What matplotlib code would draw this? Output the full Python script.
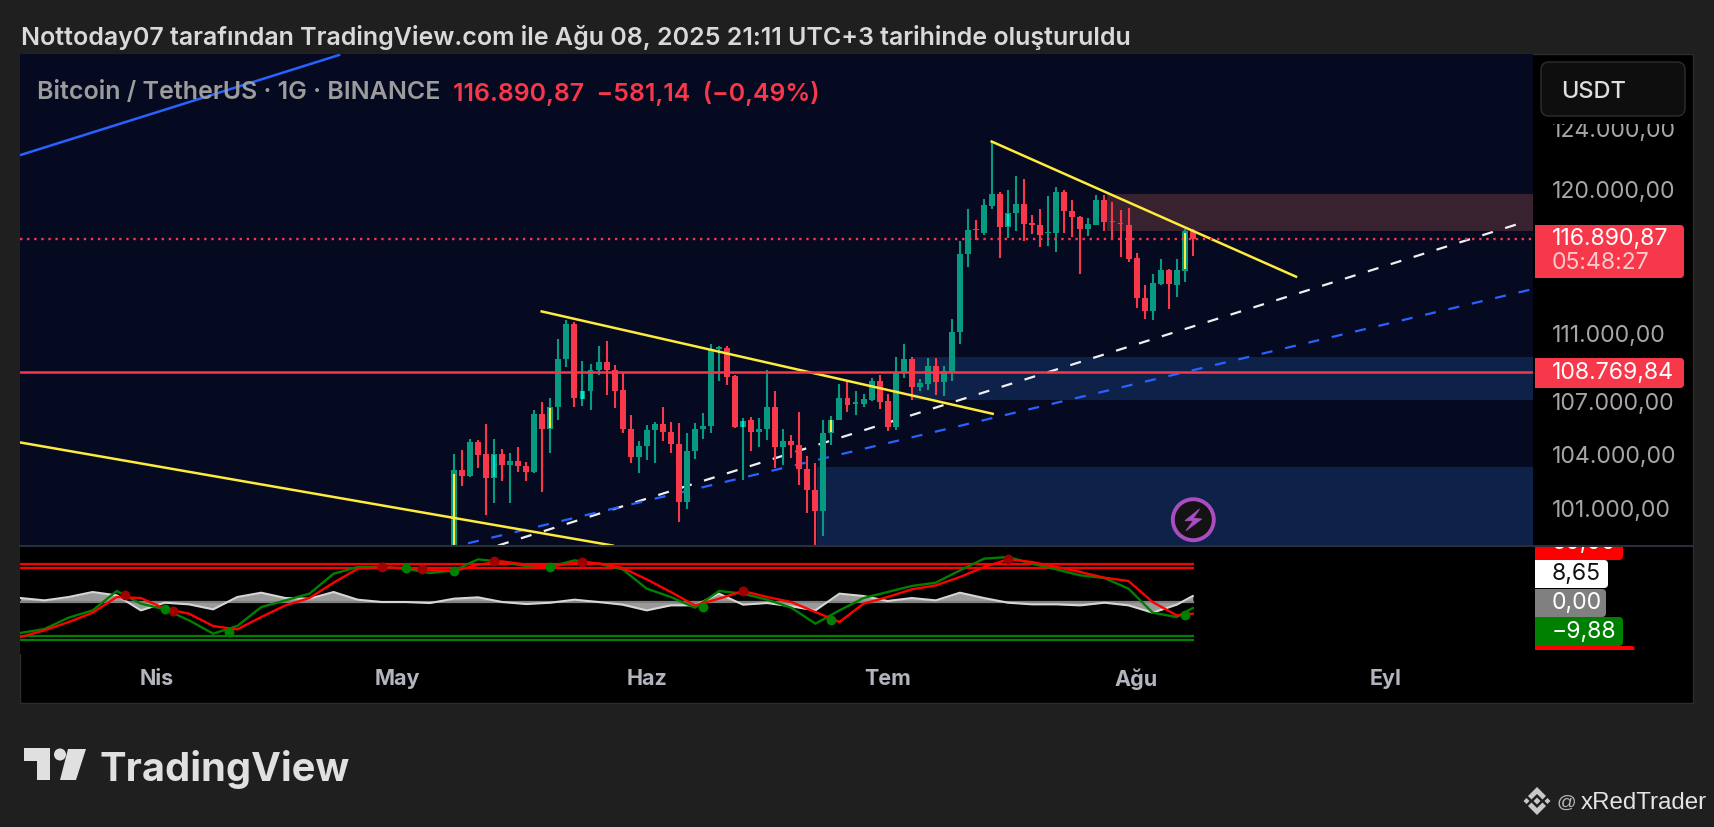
import numpy as np
import matplotlib
matplotlib.use("Agg")
import matplotlib.pyplot as plt
from matplotlib.patches import Rectangle, FancyBboxPatch, Circle, Polygon
from matplotlib.transforms import ScaledTranslation

plt.rcParams["font.family"] = ["Inter", "DejaVu Sans"]

# -----------------------------
# 1. DATA (x = days from 1 May 2025)
# -----------------------------
first_candle = 7
opens = [97030, 103200, 102870, 104760, 104050, 102710, 104050, 103430, 103690, 103390, 103040, 106375,
         105515, 106755, 109560, 111630, 107215, 107650, 108890, 109360, 108890, 107740, 105510, 103930,
         104515, 105460, 105780, 105320, 104650, 101400, 104235, 105500, 105650, 110155, 110235, 108580,
         105590, 105990, 105340, 105500, 106755, 104460, 104835, 104590, 103260, 102080, 100895, 105266,
         106030, 107300, 106950, 106950, 107180, 108290, 107120, 105585, 108720, 109540, 107900, 108095,
         109130, 108190, 108815, 111150, 115930, 117520, 117290, 119000, 119790, 117670, 118530, 119125,
         117890, 117780, 117250, 117250, 119880, 118700, 118290, 117520, 117800, 119360, 118035, 117930,
         117780, 115720, 113250, 112460, 114070, 114975, 114050, 114915, 117400]
closes = [103200, 102870, 104760, 104030, 102710, 104050, 103430, 103690, 103390, 103060, 106375, 105515,
          106755, 109560, 111650, 107250, 107670, 108930, 109360, 108890, 107700, 105500, 103930, 104515,
          105460, 105780, 105320, 104630, 101400, 104235, 105500, 105680, 110175, 110255, 108520, 105590,
          105970, 105340, 105510, 106755, 104460, 104835, 104570, 103225, 102060, 100895, 105285, 106030,
          107275, 106870, 107025, 107220, 108290, 107065, 105585, 108780, 109540, 107920, 108150, 109130,
          108190, 108855, 111190, 115975, 117480, 117440, 119040, 119790, 117670, 118550, 119125, 117820,
          117800, 117170, 117335, 119880, 118660, 118270, 117520, 117865, 119360, 117950, 117950, 117845,
          115660, 113210, 112460, 114130, 114975, 114070, 114935, 117400, 116890]
highs = [104100, 104290, 104930, 104890, 105760, 104930, 104330, 104140, 104480, 103650, 106565, 107060,
         107250, 110730, 111910, 111750, 109440, 109260, 110350, 110630, 109205, 108810, 106280, 104815,
         105710, 105880, 106755, 105880, 105840, 105285, 105840, 106410, 110470, 110350, 110315, 108620,
         106125, 106180, 106090, 108890, 107670, 105500, 105170, 106470, 103950, 103575, 105990, 106240,
         108080, 108230, 107700, 107530, 108445, 108640, 107510, 109660, 110475, 109660, 108385, 109620,
         109620, 109130, 111955, 116790, 118830, 118120, 119450, 123200, 119880, 120030, 120960, 120765,
         118420, 118785, 119620, 120200, 120030, 119405, 118380, 118250, 119700, 119725, 119230, 118765,
         118870, 116010, 114000, 114730, 115655, 115040, 115635, 117520, 117520]
lows = [96900, 102290, 102780, 103300, 100680, 101365, 102560, 101330, 103060, 102580, 103020, 101970,
        104140, 106030, 109090, 106755, 106830, 106565, 108620, 107470, 106720, 105270, 103560, 103020,
        103725, 103595, 104815, 104140, 100315, 101040, 103820, 104910, 105250, 108250, 108015, 105570,
        102615, 104250, 104440, 104890, 103315, 103430, 103860, 102320, 100800, 98200, 99555, 104570,
        105990, 106490, 106315, 106760, 107085, 106660, 105350, 105450, 108465, 107180, 107700, 107745,
        107470, 107373, 108290, 110435, 115160, 116810, 117170, 118830, 115680, 116980, 117375, 116790,
        117230, 116390, 116430, 116050, 117250, 117020, 114690, 117060, 117760, 117375, 116850, 115740,
        115450, 112640, 111960, 111880, 114030, 112580, 113290, 114210, 115820]

# candles with a coloured centre
yellow_days = [7, 19, 54, 98]
cyan_days = [12, 23, 43, 76]

price_ticks = [124000, 120000, 111000, 107000, 104000, 101000]
price_labels = ["124.000,00", "120.000,00", "111.000,00", "107.000,00", "104.000,00", "101.000,00"]
last_price = 116890.87
level_price = 108769.84

month_days = [-30, 0, 31, 61, 92, 123]
month_labels = ["Nis", "May", "Haz", "Tem", "Ağu", "Eyl"]

# trend lines: (day0, price0, day1, price1)
yellow_lines = [(-46.9, 104715, 26.76, 99050), (17.92, 112410, 74.08, 106360), (73.96, 123220, 111.86, 114540)]
blue_line = (-46.9, 122340, -7.32, 129120)
white_dash = (12.48, 99050, 139.95, 117920)
blue_dash = (8.74, 99170, 141.37, 113780)

# zones: (left day, bottom price, top price)
pink_zone = (88.32, 117410, 119790)
mid_zone = (64.16, 107170, 109700)
low_zone = (52.17, 98000, 103330)

# oscillator, every third day plus the last bar
wt_days = [d for d in range(-47, 98, 3)] + [99]
wt1 = [-48.9, -42.6, -24.7, -13.2, 17.4, -2.6, -11.6, -28.9, -50, -37.9, -7.9, 2.6, 13.2, 44.7, 55.3, 55.3, 52.6,
       45.8, 50, 67.4, 63.2, 56.8, 55.8, 65.8, 60.5, 51.6, 21.1, 7.9, -8.9, 17.4, 13.2, 3.7, -8.9, -34.2, -13.2,
       6.3, 15.8, 25.3, 30.5, 50, 68.4, 71.1, 60.5, 51.6, 42.1, 37.9, 21.1, -16.8, -23.7, -9.5]
wt2 = [-55.3, -44.7, -31.6, -16.8, 7.9, 6.3, -10.5, -18.4, -37.9, -43.2, -23.7, -5.3, 6.3, 30.5, 52.6, 54.7, 53.7,
       50, 48.9, 58.9, 64.2, 58.9, 55.8, 62.1, 61.1, 53.7, 35.8, 15.8, -5.3, 5.3, 17.4, 7.9, 0, -15.8, -31.6,
       -2.6, 7.9, 20, 26.3, 39.5, 55.3, 67.4, 63.2, 55.3, 47.4, 38.4, 33.2, 0, -21.1, -18.4]
wt_hist = [6.3, 2.6, 7.9, 15.8, 10.5, -13.2, -1.1, -3.7, -11.6, 7.9, 14.7, 6.3, 5.3, 15.8, 3.7, 0, 0, -1.6, 5.3,
           7.4, 0, -3.2, -1.1, 3.7, 0, -4.2, -13.2, -5.3, -5.3, 13.2, -4.2, -1.6, -6.8, -13.2, 13.2, 9.5, 1.6,
           6.3, 2.6, 14.7, 6.3, -1.1, -3.7, -3.7, -5.3, -1.1, -5.3, -16.8, -4.2, 9.5]
red_cross_days = [-34, -28, -2, 3, 12, 23, 43, 76]
red_cross_vals = [11.6, -14.7, 55.3, 52.6, 65.3, 63.2, 17.4, 67.4]
green_cross_days = [-29, -21, 1, 7, 19, 38, 54, 98]
green_cross_vals = [-11.6, -47.4, 53.7, 48.9, 55.8, -7.4, -28.9, -20.5]
wt_levels_up = [60, 53]
wt_levels_down = [-53, -60]

# -----------------------------
# 2. LAYOUT
# -----------------------------
W, H = 1714, 828
GREEN, RED = "#089981", "#f7374a"


def px_axes(left, top, right, bottom):
    return fig.add_axes([left / W, 1 - bottom / H, (right - left) / W, (bottom - top) / H])


fig = plt.figure(figsize=(W / 100, H / 100), dpi=100, facecolor="#1f1f1f")

back = px_axes(0, 0, W, H)
back.set_xlim(0, W)
back.set_ylim(H, 0)
back.axis("off")
back.set_zorder(0)
back.add_patch(Rectangle((20, 55), 1673, 649, fc="black", ec="#2c2c2c", lw=1))

xlim = (-47.05, 141.37)

# -----------------------------
# 3. PRICE PANE
# -----------------------------
ax = px_axes(20, 55, 1533, 547)
ax.set_zorder(1)
ax.set_facecolor("#050a20")
ax.set_yscale("log")
ax.set_xlim(xlim)
ax.set_ylim(99025, 129190)
for s in ax.spines.values():
    s.set_visible(False)

for (d0, lo, hi), col in [(pink_zone, "#38222f"), (mid_zone, "#0e2148"), (low_zone, "#0e2148")]:
    ax.add_patch(Rectangle((d0, lo), xlim[1] - d0, hi - lo, fc=col, ec="none", zorder=1))

days = np.arange(first_candle, first_candle + len(opens))
colors = [GREEN if c >= o else RED for o, c in zip(opens, closes)]
ax.vlines(days, lows, highs, colors=colors, lw=1.5, zorder=3)
body_low = np.minimum(opens, closes)
body_high = np.maximum(opens, closes)
ax.bar(days, body_high - body_low, bottom=body_low, width=0.74, color=colors, zorder=3)

for marked, col in [(yellow_days, "#ffeb3b"), (cyan_days, "#00e5d0")]:
    idx = [d - first_candle for d in marked]
    ax.bar(days[idx], (body_high - body_low)[idx] * 0.92, bottom=body_low[idx] + (body_high - body_low)[idx] * 0.04,
           width=0.26, color=col, zorder=3.5)

ax.plot(blue_line[0::2], blue_line[1::2], color="#2962ff", lw=1.8, zorder=2)
ax.plot(white_dash[0::2], white_dash[1::2], color="#f0f0f0", lw=1.6, ls=(0, (5, 5.8)), zorder=2)
ax.plot(blue_dash[0::2], blue_dash[1::2], color="#2962ff", lw=1.6, ls=(0, (5, 5.8)), zorder=2)
for line in yellow_lines:
    ax.plot(line[0::2], line[1::2], color="#ffeb3b", lw=1.8, zorder=4)

ax.axhline(level_price, color=RED, lw=1.8, zorder=4)
ax.axhline(last_price, color=RED, lw=1.7, ls=(0, (1, 2)), zorder=4)

ax.set_yticks(price_ticks, price_labels)
ax.minorticks_off()
ax.yaxis.tick_right()
ax.tick_params(axis="y", length=0, pad=13.5, labelsize=16.6, labelcolor="#a6a6a6")
ax.set_xticks([])
shift_up = ScaledTranslation(0, 2 / 100, fig.dpi_scale_trans)
for t in ax.get_yticklabels():
    t.set_transform(t.get_transform() + shift_up)

# -----------------------------
# 4. OSCILLATOR PANE
# -----------------------------
ax2 = px_axes(20, 548, 1533, 655)
ax2.set_zorder(1)
ax2.set_facecolor("black")
ax2.set_xlim(xlim)
ax2.set_ylim(-82.1, 86.9)
for s in ax2.spines.values():
    s.set_visible(False)

for lv in wt_levels_up:
    ax2.plot([xlim[0], wt_days[-1]], [lv, lv], color="#ff0000", lw=1.6)
for lv in wt_levels_down:
    ax2.plot([xlim[0], wt_days[-1]], [lv, lv], color="#008000", lw=1.6)
ax2.plot([xlim[0], wt_days[-1]], [0, 0], color="#808080", lw=1.6)
ax2.fill_between(wt_days, wt_hist, 0, color="#9a9a9a", lw=0)
ax2.plot(wt_days, wt_hist, color="#d6d6d6", lw=1.5)
ax2.plot(wt_days, wt1, color="#008000", lw=1.7)
ax2.plot(wt_days, wt2, color="#ff0000", lw=1.7)
ax2.scatter(red_cross_days, red_cross_vals, s=50, color="#a00000", zorder=5, lw=0)
ax2.scatter(green_cross_days, green_cross_vals, s=50, color="#008000", zorder=5, lw=0)

ax2.set_yticks([])
ax2.set_xticks(month_days, month_labels)
ax2.tick_params(axis="x", length=0, pad=10, labelsize=15.5, labelcolor="#b2b5be")
for t in ax2.get_xticklabels():
    t.set_fontweight("bold")

# -----------------------------
# 5. LABELS AND BRANDING
# -----------------------------
top = px_axes(0, 0, W, H)
top.set_xlim(0, W)
top.set_ylim(H, 0)
top.axis("off")
top.set_zorder(5)
top.patch.set_alpha(0)


def label_box(x0, y0, x1, y1, col, ec="none"):
    top.add_patch(Rectangle((x0, y0), (x1 - x0) - 6, y1 - y0, fc=col, ec="none"))
    top.add_patch(FancyBboxPatch((x0 + 4, y0), x1 - x0 - 4, y1 - y0, boxstyle="round,pad=0,rounding_size=4",
                                 fc=col, ec=ec))


top.text(21, 38, "Nottoday07 tarafından TradingView.com ile Ağu 08, 2025 21:11 UTC+3 tarihinde oluşturuldu",
         color="#d9d9d9", fontsize=18, fontweight="semibold", va="center")
top.text(37, 93, "Bitcoin / TetherUS · 1G · BINANCE", color="#9c9c9c", fontsize=18, fontweight="semibold", va="center")
top.text(453, 93, "116.890,87  −581,14  (−0,49%)", color=RED, fontsize=17.9, fontweight="semibold", va="center")

# hide the top of the first price label, then the unit button
top.add_patch(Rectangle((1540, 110), 145, 15, fc="black", ec="none"))
top.add_patch(FancyBboxPatch((1541, 63), 144, 54, boxstyle="round,pad=0,rounding_size=8", fc="#0e0e0e", ec="#2e2e2e"))
top.text(1561, 92, "USDT", color="#dedede", fontsize=17, fontweight="medium", va="center")

label_box(1535, 226, 1684, 279, RED)
top.text(1552, 239, "116.890,87", color="white", fontsize=16.6, va="center")
top.text(1552, 263, "05:48:27", color="#f9c9ce", fontsize=16.6, va="center")
label_box(1535, 359, 1684, 389, RED)
top.text(1552, 373, "108.769,84", color="white", fontsize=16.6, va="center")

# oscillator value labels, the first one is cut by the pane edge
label_box(1535, 530, 1623, 561, "#ff0000")
top.text(1552, 543, "60,00", color="white", fontsize=16.6, va="center", zorder=3)
top.add_patch(Rectangle((1534, 525), 100, 22, fc="black", ec="none", zorder=4))
label_box(1535, 561, 1608, 589, "white")
top.text(1552, 574, "8,65", color="#111111", fontsize=16.6, va="center")
label_box(1535, 590, 1606, 618, "#808080")
top.text(1552, 603, "0,00", color="white", fontsize=16.6, va="center")
label_box(1535, 618, 1623, 647, "#008000")
top.text(1552, 632, "−9,88", color="white", fontsize=16.6, va="center")
label_box(1535, 647, 1635, 652, "#ff0000")
top.add_patch(Rectangle((1534, 651), 110, 5, fc="black", ec="none"))

top.plot([20, 1693], [547, 547], color="#2a2e39", lw=1.5, zorder=5)

# lightning badge
top.add_patch(Circle((1193.3, 520.7), 20.5, fc="#131313", ec="#a94dc1", lw=2.8))
top.add_patch(Polygon([(1199.5, 510), (1185, 521.7), (1193.3, 521.7), (1186, 531.7), (1201.7, 520), (1193.3, 519.3)],
                      fc="#a94dc1", ec="#a94dc1", lw=0.6))

# TradingView logo
logo_col = "#e0e0e0"
top.add_patch(Polygon([(24, 749), (50, 749), (50, 781), (37, 781), (37, 762), (24, 762)], fc=logo_col, ec="none"))
top.add_patch(Circle((60, 755.5), 6, fc=logo_col, ec="none"))
top.add_patch(Polygon([(68, 750), (86, 750), (76, 781), (60, 781)], fc=logo_col, ec="none"))
top.text(100, 781, "TradingView", color=logo_col, fontsize=28.7, fontweight="bold", va="baseline")

# credit at bottom right
icon_col = "#c8c8c8"
cx, cy = 1537, 802
top.add_patch(Polygon([(cx - 3.5, cy), (cx, cy - 3.5), (cx + 3.5, cy), (cx, cy + 3.5)], fc=icon_col, ec="none"))
for off in (-10.5, 10.5):
    top.add_patch(Polygon([(cx + off - 3, cy), (cx + off, cy - 3), (cx + off + 3, cy), (cx + off, cy + 3)], fc=icon_col, ec="none"))
for sgn in (1, -1):
    top.add_patch(Polygon([(cx, cy - 14 * sgn), (cx + 9, cy - 5 * sgn), (cx + 5.5, cy - 1.5 * sgn), (cx, cy - 7 * sgn),
                           (cx - 5.5, cy - 1.5 * sgn), (cx - 9, cy - 5 * sgn)], fc=icon_col, ec="none"))
top.text(1557, 803, "@", color="#b5b5b5", fontsize=14, family="Liberation Sans", va="center")
top.text(1581, 803, "xRedTrader", color="#e4e4e4", fontsize=17.4, family="Liberation Sans", va="center")

fig.savefig("out.png", dpi=100, facecolor=fig.get_facecolor())
